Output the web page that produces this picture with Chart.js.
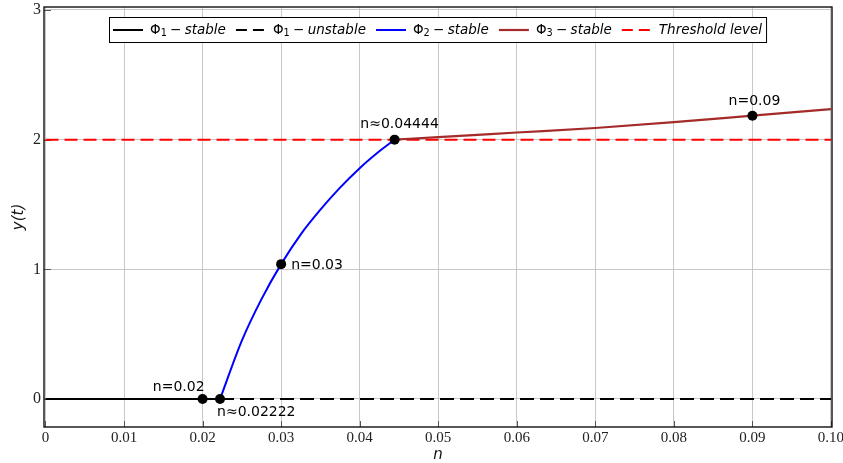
<!DOCTYPE html>
<html>
<head>
<meta charset="utf-8">
<script src="https://cdn.jsdelivr.net/npm/chart.js@4.4.1/dist/chart.umd.min.js"></script>
<style>
  html, body { margin: 0; padding: 0; background: #ffffff; }
  #wrap { width: 843px; height: 463px; position: relative; }
</style>
</head>
<body>
<div id="wrap"><canvas id="c"></canvas></div>
<script>
// ---------------- DATA ----------------
const nPhi1Stable = [0, 0.02222];
const yPhi1Stable = [0, 0];

const nPhi1Unstable = [0.02222, 0.1];
const yPhi1Unstable = [0, 0];

const nPhi2 = [0.02222, 0.025, 0.0275, 0.03, 0.0325, 0.035, 0.0375, 0.04, 0.0425, 0.04444];
const yPhi2 = [0, 0.45, 0.77, 1.04, 1.27, 1.46, 1.63, 1.78, 1.91, 2.0];

const nPhi3 = [0.04444, 0.05, 0.06, 0.07, 0.08, 0.09, 0.1];
const yPhi3 = [2.0, 2.02, 2.055, 2.09, 2.135, 2.185, 2.235];

const nThreshold = [0, 0.1];
const yThreshold = [2, 2];

const nMarkers = [0.02, 0.02222, 0.03, 0.04444, 0.09];
const yMarkers = [0, 0, 1.04, 2.0, 2.185];
const markerLabels = ['n=0.02', 'n\u22480.02222', 'n=0.03', 'n\u22480.04444', 'n=0.09'];

const seriesLabels = ['\u03A6_1 \u2212 stable', '\u03A6_1 \u2212 unstable', '\u03A6_2 \u2212 stable', '\u03A6_3 \u2212 stable', 'Threshold level'];

const xTicks = [0, 0.01, 0.02, 0.03, 0.04, 0.05, 0.06, 0.07, 0.08, 0.09, 0.1];
const xTickLabels = ['0', '0.01', '0.02', '0.03', '0.04', '0.05', '0.06', '0.07', '0.08', '0.09', '0.10'];
const yTicks = [0, 1, 2, 3];
const yTickLabels = ['0', '1', '2', '3'];

// ---------------- helpers ----------------
const pts = (xs, ys) => xs.map((x, i) => ({ x: x, y: ys[i] }));

// label offsets for the marker annotations (style only)
const annotStyle = [
  { dx: 2, dy: -12, align: 'right' },
  { dx: -3, dy: 13, align: 'left' },
  { dx: 10, dy: 1, align: 'left' },
  { dx: 5, dy: -15, align: 'center' },
  { dx: 2, dy: -14, align: 'center' }
];

const framePlugin = {
  id: 'frameTicks',
  beforeDatasetsDraw(chart) {
    const { ctx, chartArea: a, scales } = chart;
    ctx.save();
    ctx.strokeStyle = '#555';
    ctx.lineWidth = 1;
    scales.x.ticks.forEach(t => {
      const px = Math.round(scales.x.getPixelForValue(t.value)) + 0.5;
      ctx.beginPath(); ctx.moveTo(px, a.bottom); ctx.lineTo(px, a.bottom - 6); ctx.stroke();
    });
    scales.y.ticks.forEach(t => {
      const py = Math.round(scales.y.getPixelForValue(t.value)) + 0.5;
      ctx.beginPath(); ctx.moveTo(a.left, py); ctx.lineTo(a.left + 7, py); ctx.stroke();
    });
    ctx.restore();
  },
  afterDatasetsDraw(chart) {
    const { ctx, scales } = chart;
    ctx.save();
    ctx.font = '14px "DejaVu Sans"';
    ctx.fillStyle = '#000';
    ctx.textBaseline = 'middle';
    nMarkers.forEach((n, i) => {
      const px = scales.x.getPixelForValue(n);
      const py = scales.y.getPixelForValue(yMarkers[i]);
      const s = annotStyle[i];
      ctx.textAlign = s.align;
      ctx.fillText(markerLabels[i], px + s.dx, py + s.dy);
    });
    ctx.restore();
  },
  afterDraw(chart) {
    const { ctx, chartArea: a } = chart;
    ctx.save();
    // frame
    ctx.strokeStyle = '#111';
    ctx.lineWidth = 1.4;
    ctx.strokeRect(a.left, a.top, a.right - a.left, a.bottom - a.top);

    // legend (mathtext-like)
    const fs = 13.5;
    const fBase = fs + 'px "DejaVu Sans"';
    const fIt = 'italic ' + fs + 'px "DejaVu Sans"';
    const fSub = (fs * 0.72) + 'px "DejaVu Sans"';
    const items = chart.data.datasets.filter(d => d.legendLabel);
    const boxLeft = 109, boxTop = 17, boxBottom = 42;
    const cy = (boxTop + boxBottom) / 2 + 0.5;
    const lineLen = 30, gapLT = 7, gapItem = 10;

    function tokens(label) {
      const m = label.match(/^(\u03A6)_(\d) \u2212 (.*)$/);
      if (m) {
        return [
          { t: m[1], f: fBase, dy: 0 },
          { t: m[2], f: fSub, dy: 3.5 },
          { t: ' \u2212 ', f: fBase, dy: 0, shrink: 2 },
          { t: m[3], f: fIt, dy: 0 }
        ];
      }
      return [{ t: label, f: fIt, dy: 0 }];
    }
    function tokWidth(tk) {
      ctx.font = tk.f;
      return ctx.measureText(tk.t).width - (tk.shrink || 0);
    }
    let x = boxLeft + 4;
    const layout = items.map(d => {
      const tk = tokens(d.legendLabel);
      const w = tk.reduce((s, k) => s + tokWidth(k), 0);
      const item = { d: d, tk: tk, x: x, w: w };
      x += lineLen + gapLT + w + gapItem;
      return item;
    });
    const boxRight = x - gapItem + 4;
    ctx.fillStyle = '#fff';
    ctx.fillRect(boxLeft, boxTop, boxRight - boxLeft, boxBottom - boxTop);
    ctx.strokeStyle = '#000';
    ctx.lineWidth = 1;
    ctx.strokeRect(boxLeft + 0.5, boxTop + 0.5, boxRight - boxLeft, boxBottom - boxTop);

    layout.forEach(it => {
      ctx.save();
      ctx.strokeStyle = it.d.borderColor;
      ctx.lineWidth = it.d.borderWidth;
      ctx.setLineDash(it.d.borderDash && it.d.borderDash.length ? [11, 6] : []);
      ctx.beginPath();
      ctx.moveTo(it.x, cy); ctx.lineTo(it.x + lineLen, cy); ctx.stroke();
      ctx.restore();
      let tx = it.x + lineLen + gapLT;
      ctx.fillStyle = '#000';
      ctx.textBaseline = 'middle';
      ctx.textAlign = 'left';
      it.tk.forEach(k => {
        ctx.font = k.f;
        ctx.fillText(k.t, tx - (k.shrink ? k.shrink / 2 : 0), cy + k.dy);
        tx += tokWidth(k);
      });
    });
    ctx.restore();
  }
};

const common = { showLine: true, pointRadius: 0, pointHoverRadius: 0, fill: false };

new Chart(document.getElementById('c'), {
  type: 'scatter',
  data: {
    datasets: [
      { label: 'markers', data: pts(nMarkers, yMarkers), showLine: false, pointRadius: 5,
        pointBackgroundColor: '#000', pointBorderColor: '#000', pointBorderWidth: 0, order: 0 },
      Object.assign({}, common, { legendLabel: seriesLabels[0], data: pts(nPhi1Stable, yPhi1Stable),
        borderColor: '#000000', borderWidth: 2, order: 3 }),
      Object.assign({}, common, { legendLabel: seriesLabels[1], data: pts(nPhi1Unstable, yPhi1Unstable),
        borderColor: '#000000', borderWidth: 2, borderDash: [14, 6], order: 3 }),
      Object.assign({}, common, { legendLabel: seriesLabels[2], data: pts(nPhi2, yPhi2),
        borderColor: '#0000ff', borderWidth: 2, cubicInterpolationMode: 'monotone', order: 2 }),
      Object.assign({}, common, { legendLabel: seriesLabels[3], data: pts(nPhi3, yPhi3),
        borderColor: '#a52a2a', borderWidth: 2.2, cubicInterpolationMode: 'monotone', order: 1 }),
      Object.assign({}, common, { legendLabel: seriesLabels[4], data: pts(nThreshold, yThreshold),
        borderColor: '#ff0000', borderWidth: 2, borderDash: [13, 6], order: 4 })
    ]
  },
  options: {
    responsive: true,
    maintainAspectRatio: false,
    animation: false,
    events: [],
    layout: { autoPadding: false, padding: { left: 0, right: 11, top: 7, bottom: 0 } },
    plugins: { legend: { display: false }, tooltip: { enabled: false } },
    scales: {
      x: {
        type: 'linear',
        min: -0.00019, max: 0.10013,
        afterBuildTicks: s => { s.ticks = xTicks.map(v => ({ value: v })); },
        afterFit: s => { s.height = 36; s.paddingLeft = 0; s.paddingRight = 0; },
        ticks: {
          callback: (v, i) => xTickLabels[i],
          font: { family: '"Liberation Serif"', size: 15 },
          color: '#222',
          padding: 2,
          maxRotation: 0, autoSkip: false
        },
        grid: { color: '#c8c8c8', lineWidth: 1, drawTicks: false },
        border: { display: false },
        title: { display: true, text: 'n', font: { family: '"DejaVu Sans"', size: 15, style: 'italic', lineHeight: 1 },
          color: '#111', padding: { top: 0, bottom: 0 } }
      },
      y: {
        type: 'linear',
        min: -0.216, max: 3.023,
        afterBuildTicks: s => { s.ticks = yTicks.map(v => ({ value: v })); },
        afterFit: s => { s.width = 44; s.paddingTop = 0; s.paddingBottom = 0; },
        ticks: {
          callback: (v, i) => yTickLabels[i],
          font: { family: '"Liberation Serif"', size: 16 },
          color: '#222',
          padding: 3
        },
        grid: { color: '#c8c8c8', lineWidth: 1, drawTicks: false },
        border: { display: false },
        title: { display: true, text: 'y(t)', font: { family: '"DejaVu Sans"', size: 15, style: 'italic', lineHeight: 1.2 },
          color: '#111', padding: { top: 10, bottom: 0 } }
      }
    }
  },
  plugins: [framePlugin]
});
</script>
</body>
</html>
